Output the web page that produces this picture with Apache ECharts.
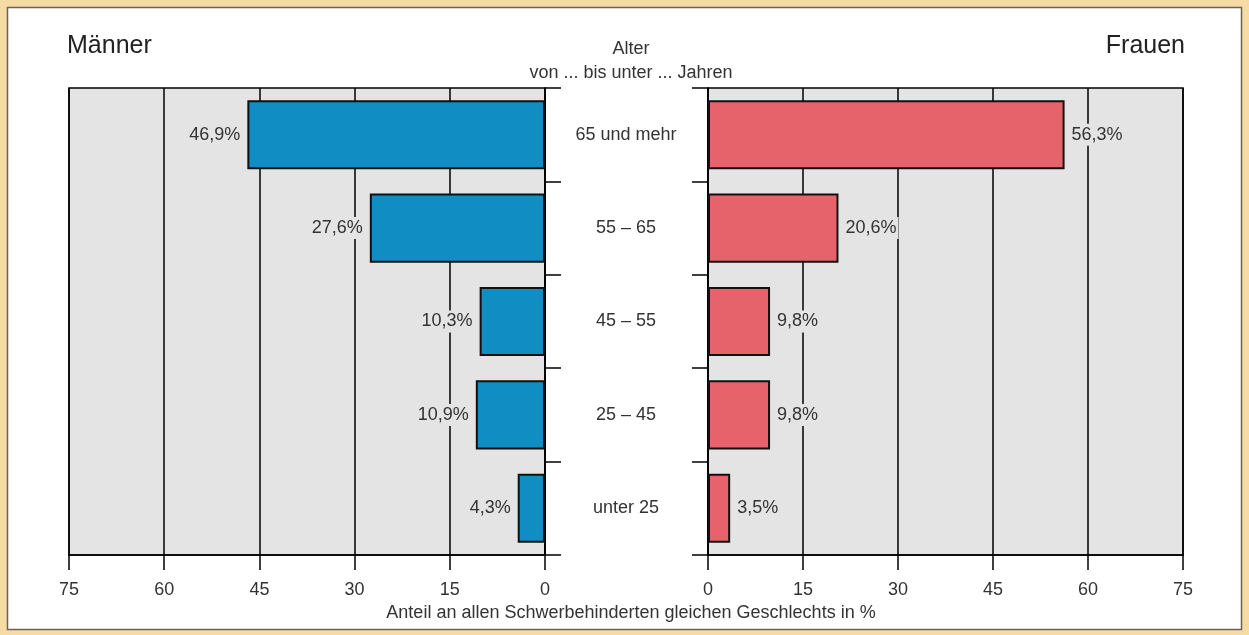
<!DOCTYPE html>
<html>
<head>
<meta charset="utf-8">
<script src="https://cdn.jsdelivr.net/npm/echarts@6/dist/echarts.min.js"></script>
<style>
html,body{margin:0;padding:0;background:#f7dba4;}
#c{width:1249px;height:635px;}
</style>
</head>
<body>
<div id="c"></div>
<script>
const categories = ["65 und mehr", "55 – 65", "45 – 55", "25 – 45", "unter 25"];
const maenner = [46.9, 27.6, 10.3, 10.9, 4.3];
const frauen = [56.3, 20.6, 9.8, 9.8, 3.5];
const xTicks = [0, 15, 30, 45, 60, 75];

const FONT = '"Liberation Sans", Arial, sans-serif';
const TXT = '#333';
const GRAY = '#e4e4e4';
const fmt = p => String(p.value).replace('.', ',') + '%';

const chart = echarts.init(document.getElementById('c'), null, {renderer: 'canvas'});

function xAxisCfg(gridIndex, inverse) {
  return {
    type: 'value', gridIndex, inverse,
    min: xTicks[0], max: xTicks[xTicks.length - 1], interval: xTicks[1] - xTicks[0],
    axisLine: {show: true, lineStyle: {color: '#000', width: 1.5}},
    axisTick: {show: true, length: 15, lineStyle: {color: '#000', width: 1.5}},
    axisLabel: {color: TXT, fontSize: 18, fontFamily: FONT, margin: 26},
    splitLine: {show: true, lineStyle: {color: '#000', width: 1.5}}
  };
}

chart.setOption({
  animation: false,
  backgroundColor: '#f7dba4',
  graphic: [{
    type: 'rect', z: -10,
    shape: {x: 7.5, y: 7.5, width: 1234, height: 622},
    style: {fill: '#ffffff', stroke: '#6b6255', lineWidth: 1.5}
  }],
  title: [
    {text: 'Männer', left: 62, top: 29, textStyle: {fontSize: 25, fontWeight: 'normal', color: '#222', fontFamily: FONT}},
    {text: 'Frauen', right: 59, top: 29, textStyle: {fontSize: 25, fontWeight: 'normal', color: '#222', fontFamily: FONT}},
    {text: 'Alter\nvon ... bis unter ... Jahren', left: 626, top: 32, textAlign: 'center',
     textStyle: {fontSize: 18, fontWeight: 'normal', color: TXT, fontFamily: FONT, lineHeight: 24, align: 'center'}},
    {text: 'Anteil an allen Schwerbehinderten gleichen Geschlechts in %', left: 626, top: 599, textAlign: 'center',
     textStyle: {fontSize: 18, fontWeight: 'normal', color: TXT, fontFamily: FONT}}
  ],
  grid: [
    {left: 69, top: 88, width: 476, height: 467, show: true, backgroundColor: GRAY, borderColor: '#000', borderWidth: 1.5},
    {left: 708, top: 88, width: 475, height: 467, show: true, backgroundColor: GRAY, borderColor: '#000', borderWidth: 1.5}
  ],
  xAxis: [xAxisCfg(0, true), xAxisCfg(1, false)],
  yAxis: [
    {
      type: 'category', gridIndex: 0, data: categories, inverse: true, position: 'right',
      axisLine: {show: true, lineStyle: {color: '#000', width: 1.5}},
      axisTick: {show: true, length: 16, inside: false, lineStyle: {color: '#000', width: 1.5}},
      axisLabel: {show: true, color: TXT, fontSize: 18, fontFamily: FONT, align: 'center', margin: 81},
      splitLine: {show: false}
    },
    {
      type: 'category', gridIndex: 1, data: categories, inverse: true, position: 'left',
      axisLine: {show: true, lineStyle: {color: '#000', width: 1.5}},
      axisTick: {show: true, length: 16, lineStyle: {color: '#000', width: 1.5}},
      axisLabel: {show: false},
      splitLine: {show: false}
    }
  ],
  series: [
    {
      name: 'Männer', type: 'bar', xAxisIndex: 0, yAxisIndex: 0, data: maenner, barWidth: '74%',
      itemStyle: {color: '#108dc3', borderColor: '#111', borderWidth: 2},
      label: {show: true, position: 'left', distance: 5, formatter: fmt, color: TXT, fontSize: 18, fontFamily: FONT,
              backgroundColor: GRAY, padding: [2, 2]}
    },
    {
      name: 'Frauen', type: 'bar', xAxisIndex: 1, yAxisIndex: 1, data: frauen, barWidth: '74%',
      itemStyle: {color: '#e7636b', borderColor: '#111', borderWidth: 2},
      label: {show: true, position: 'right', distance: 5, formatter: fmt, color: TXT, fontSize: 18, fontFamily: FONT,
              backgroundColor: GRAY, padding: [2, 2]}
    }
  ]
});
</script>
</body>
</html>
